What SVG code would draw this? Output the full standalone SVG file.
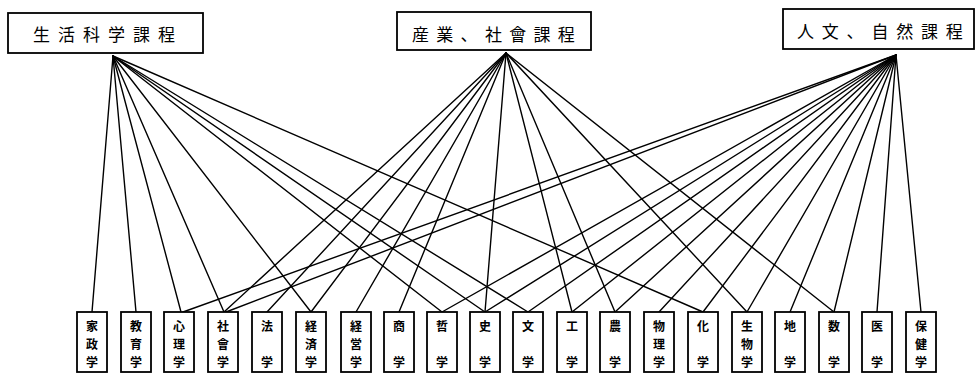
<svg xmlns="http://www.w3.org/2000/svg" width="976" height="383" viewBox="0 0 976 383">
<style>
.box{fill:#fff;stroke:#000;stroke-width:1.8}
.top{font-family:"Noto Sans CJK JP","Noto Sans CJK SC",sans-serif;font-size:17px;fill:#000}
.lbl{font-family:"Noto Sans CJK JP","Noto Sans CJK SC",sans-serif;font-size:12px;font-weight:bold;fill:#000;text-anchor:middle}
.ln{stroke:#000;stroke-width:1.4;fill:none;stroke-linecap:round}
</style>
<rect width="976" height="383" fill="#fff"/>
<g id="connectors">
<line class="ln" x1="113" y1="56" x2="92" y2="312"/>
<line class="ln" x1="113" y1="56" x2="136" y2="312"/>
<line class="ln" x1="113" y1="56" x2="181" y2="312"/>
<line class="ln" x1="113" y1="56" x2="224" y2="312"/>
<line class="ln" x1="113" y1="56" x2="311" y2="312"/>
<line class="ln" x1="113" y1="56" x2="442" y2="312"/>
<line class="ln" x1="113" y1="56" x2="485" y2="312"/>
<line class="ln" x1="113" y1="56" x2="528" y2="312"/>
<line class="ln" x1="113" y1="56" x2="703" y2="312"/>
<line class="ln" x1="506" y1="53" x2="224" y2="312"/>
<line class="ln" x1="506" y1="53" x2="267" y2="312"/>
<line class="ln" x1="506" y1="53" x2="311" y2="312"/>
<line class="ln" x1="506" y1="53" x2="356" y2="312"/>
<line class="ln" x1="506" y1="53" x2="399" y2="312"/>
<line class="ln" x1="506" y1="53" x2="485" y2="312"/>
<line class="ln" x1="506" y1="53" x2="572" y2="312"/>
<line class="ln" x1="506" y1="53" x2="615" y2="312"/>
<line class="ln" x1="506" y1="53" x2="747" y2="312"/>
<line class="ln" x1="506" y1="53" x2="834" y2="312"/>
<line class="ln" x1="896" y1="55" x2="183" y2="312"/>
<line class="ln" x1="896" y1="55" x2="226" y2="312"/>
<line class="ln" x1="896" y1="55" x2="442" y2="312"/>
<line class="ln" x1="896" y1="55" x2="485" y2="312"/>
<line class="ln" x1="896" y1="55" x2="528" y2="312"/>
<line class="ln" x1="896" y1="55" x2="572" y2="312"/>
<line class="ln" x1="896" y1="55" x2="615" y2="312"/>
<line class="ln" x1="896" y1="55" x2="659" y2="312"/>
<line class="ln" x1="896" y1="55" x2="703" y2="312"/>
<line class="ln" x1="896" y1="55" x2="747" y2="312"/>
<line class="ln" x1="896" y1="55" x2="790" y2="312"/>
<line class="ln" x1="896" y1="55" x2="834" y2="312"/>
<line class="ln" x1="896" y1="55" x2="877" y2="312"/>
<line class="ln" x1="896" y1="55" x2="921" y2="312"/>
</g>
<g id="n-seikatsu"><rect class="box" x="8" y="13" width="195" height="40"/><text class="top" x="33" y="41" letter-spacing="8">生活科学課程</text></g>
<g id="n-sangyo"><rect class="box" x="397" y="12" width="194" height="38"/><text class="top" x="412" y="41" letter-spacing="7.3">産業、社會課程</text></g>
<g id="n-jinbun"><rect class="box" x="783" y="9" width="191" height="40"/><text class="top" x="797" y="38" letter-spacing="7.8">人文、自然課程</text></g>
<g id="b1"><rect class="box" x="77" y="312" width="30" height="60"/><text class="lbl"><tspan x="92" y="331">家</tspan><tspan x="92" y="349">政</tspan><tspan x="92" y="367">学</tspan></text></g>
<g id="b2"><rect class="box" x="121" y="312" width="30" height="60"/><text class="lbl"><tspan x="136" y="331">教</tspan><tspan x="136" y="349">育</tspan><tspan x="136" y="367">学</tspan></text></g>
<g id="b3"><rect class="box" x="164" y="312" width="30" height="60"/><text class="lbl"><tspan x="179" y="331">心</tspan><tspan x="179" y="349">理</tspan><tspan x="179" y="367">学</tspan></text></g>
<g id="b4"><rect class="box" x="208" y="312" width="30" height="60"/><text class="lbl"><tspan x="223" y="331">社</tspan><tspan x="223" y="349">會</tspan><tspan x="223" y="367">学</tspan></text></g>
<g id="b5"><rect class="box" x="252" y="312" width="30" height="60"/><text class="lbl"><tspan x="267" y="331">法</tspan><tspan x="267" y="367">学</tspan></text></g>
<g id="b6"><rect class="box" x="296" y="312" width="30" height="60"/><text class="lbl"><tspan x="311" y="331">経</tspan><tspan x="311" y="349">済</tspan><tspan x="311" y="367">学</tspan></text></g>
<g id="b7"><rect class="box" x="341" y="312" width="30" height="60"/><text class="lbl"><tspan x="356" y="331">経</tspan><tspan x="356" y="349">営</tspan><tspan x="356" y="367">学</tspan></text></g>
<g id="b8"><rect class="box" x="384" y="312" width="30" height="60"/><text class="lbl"><tspan x="399" y="331">商</tspan><tspan x="399" y="367">学</tspan></text></g>
<g id="b9"><rect class="box" x="427" y="312" width="30" height="60"/><text class="lbl"><tspan x="442" y="331">哲</tspan><tspan x="442" y="367">学</tspan></text></g>
<g id="b10"><rect class="box" x="470" y="312" width="30" height="60"/><text class="lbl"><tspan x="485" y="331">史</tspan><tspan x="485" y="367">学</tspan></text></g>
<g id="b11"><rect class="box" x="513" y="312" width="30" height="60"/><text class="lbl"><tspan x="528" y="331">文</tspan><tspan x="528" y="367">学</tspan></text></g>
<g id="b12"><rect class="box" x="557" y="312" width="30" height="60"/><text class="lbl"><tspan x="572" y="331">工</tspan><tspan x="572" y="367">学</tspan></text></g>
<g id="b13"><rect class="box" x="600" y="312" width="30" height="60"/><text class="lbl"><tspan x="615" y="331">農</tspan><tspan x="615" y="367">学</tspan></text></g>
<g id="b14"><rect class="box" x="644" y="312" width="30" height="60"/><text class="lbl"><tspan x="659" y="331">物</tspan><tspan x="659" y="349">理</tspan><tspan x="659" y="367">学</tspan></text></g>
<g id="b15"><rect class="box" x="688" y="312" width="30" height="60"/><text class="lbl"><tspan x="703" y="331">化</tspan><tspan x="703" y="367">学</tspan></text></g>
<g id="b16"><rect class="box" x="732" y="312" width="30" height="60"/><text class="lbl"><tspan x="747" y="331">生</tspan><tspan x="747" y="349">物</tspan><tspan x="747" y="367">学</tspan></text></g>
<g id="b17"><rect class="box" x="775" y="312" width="30" height="60"/><text class="lbl"><tspan x="790" y="331">地</tspan><tspan x="790" y="367">学</tspan></text></g>
<g id="b18"><rect class="box" x="819" y="312" width="30" height="60"/><text class="lbl"><tspan x="834" y="331">数</tspan><tspan x="834" y="367">学</tspan></text></g>
<g id="b19"><rect class="box" x="862" y="312" width="30" height="60"/><text class="lbl"><tspan x="877" y="331">医</tspan><tspan x="877" y="367">学</tspan></text></g>
<g id="b20"><rect class="box" x="906" y="312" width="30" height="60"/><text class="lbl"><tspan x="921" y="331">保</tspan><tspan x="921" y="349">健</tspan><tspan x="921" y="367">学</tspan></text></g>
</svg>
